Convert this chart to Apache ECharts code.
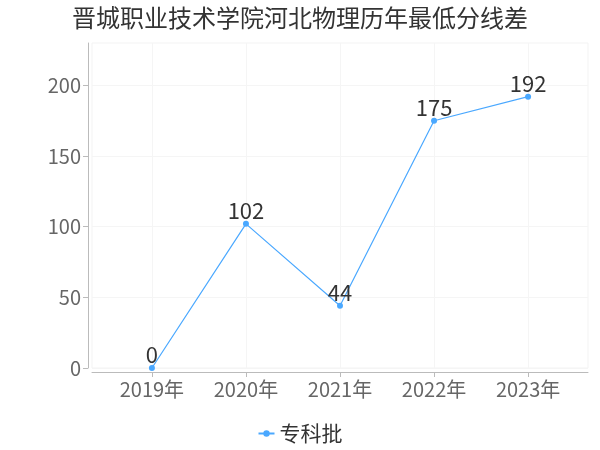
<!DOCTYPE html>
<html>
<head>
<meta charset="utf-8">
<script src="https://cdn.jsdelivr.net/npm/echarts@6/dist/echarts.min.js"></script>
<style>html,body{margin:0;padding:0;background:#fff;}#c{width:600px;height:450px;}</style>
</head>
<body>
<div id="c"></div>
<script>
var titleText = '晋城职业技术学院河北物理历年最低分线差';
var categories = ['2019年', '2020年', '2021年', '2022年', '2023年'];
var seriesName = '专科批';
var values = [0, 102, 44, 175, 192];
var yTicks = [0, 50, 100, 150, 200];

var idx = categories.map(function (c, i) { return i; });
var FONT = '"Noto Sans CJK SC", "Noto Sans", sans-serif';
var chart = echarts.init(document.getElementById('c'), null, { renderer: 'canvas' });
chart.setOption({
  backgroundColor: '#fff',
  animation: false,
  title: {
    text: titleText, left: 'center', top: 1,
    textStyle: { fontSize: 24, fontWeight: 'normal', color: '#333', fontFamily: FONT }
  },
  legend: {
    data: [seriesName], bottom: 1, left: 'center',
    itemWidth: 16, itemHeight: 8,
    textStyle: { fontSize: 21, color: '#333', fontFamily: FONT }
  },
  grid: {
    left: 92, right: 12, top: 43, bottom: 82,
    show: true, borderColor: '#f3f3f3', borderWidth: 1
  },
  xAxis: {
    type: 'value', min: -0.637, max: 4.637, offset: 4,
    axisLine: { show: true, onZero: false, lineStyle: { color: '#bbb' } },
    axisTick: { show: true, customValues: idx, lineStyle: { color: '#bbb' } },
    axisLabel: {
      customValues: idx, fontSize: 20, color: '#666', fontFamily: FONT, margin: 7,
      formatter: function (v) { return categories[Math.round(v)]; }
    },
    splitLine: { show: true, lineStyle: { color: '#f5f5f5' } }
  },
  yAxis: {
    type: 'value', min: 0, max: 230, offset: 4,
    axisLine: { show: true, onZero: false, lineStyle: { color: '#bbb' } },
    axisTick: { show: true, customValues: yTicks, lineStyle: { color: '#bbb' } },
    axisLabel: { customValues: yTicks, fontSize: 20, color: '#666', fontFamily: FONT, margin: 7 },
    splitLine: { show: true, lineStyle: { color: '#f5f5f5' } }
  },
  series: [{
    name: seriesName, type: 'line',
    data: values.map(function (v, i) { return [i, v]; }),
    symbol: 'circle', symbolSize: 6,
    itemStyle: { color: '#4aa8ff' },
    lineStyle: { color: '#4aa8ff', width: 1.2 },
    label: {
      show: true, position: 'top', distance: -1, fontSize: 22, color: '#333', fontFamily: FONT,
      formatter: function (p) { return p.value[1]; }
    }
  }]
});
</script>
</body>
</html>
